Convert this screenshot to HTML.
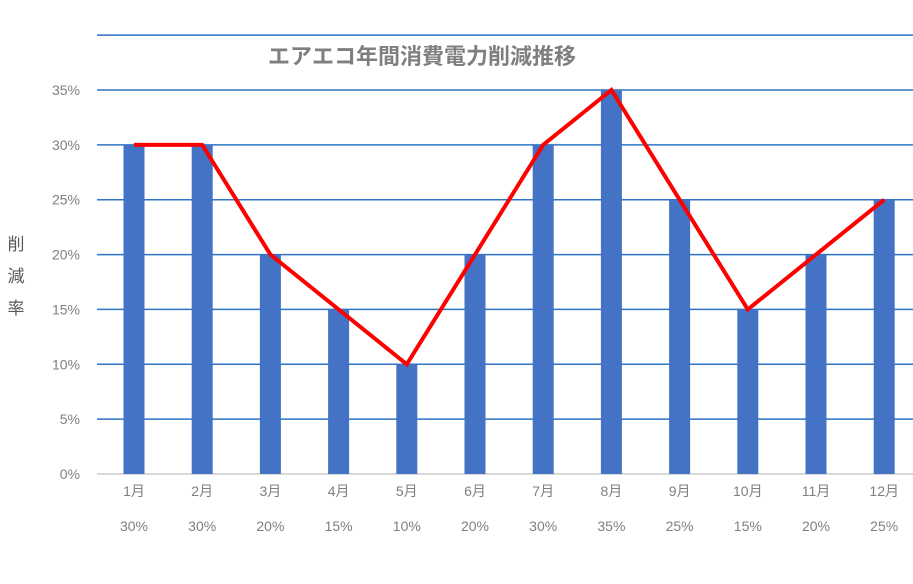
<!DOCTYPE html>
<html><head><meta charset="utf-8"><style>
body{margin:0;background:#fff;}
svg text{font-family:"Liberation Sans","Noto Sans CJK JP",sans-serif;}
</style></head><body>
<svg width="913" height="579">
<g id="grid"></g>
<text x="422" y="64" text-anchor="middle" font-size="22" font-weight="bold" fill="#7f7f7f">エアエコ年間消費電力削減推移</text>
<g font-size="17" fill="#595959">
<text x="16" y="250" text-anchor="middle">削</text>
<text x="16" y="282" text-anchor="middle">減</text>
<text x="16" y="314" text-anchor="middle">率</text>
</g>
<g id="bars"></g>
<g id="line"></g>
<g id="labels"></g>
<text x="430" y="592" text-anchor="middle" font-size="15" fill="#595959">年間消費電力削減率</text>
</svg>
<script>
const categories=["1月","2月","3月","4月","5月","6月","7月","8月","9月","10月","11月","12月"];
const values=[30,30,20,15,10,20,30,35,25,15,20,25];
const ticks=[0,5,10,15,20,25,30,35,40];
const NS="http://www.w3.org/2000/svg";
const y=v=>474-v*(384/35);
const x=i=>134+i*68.2;
function mk(t,a,p){const e=document.createElementNS(NS,t);for(const k in a)e.setAttribute(k,a[k]);p.appendChild(e);return e;}
const grid=document.getElementById('grid');
ticks.forEach(t=>{
 const l=mk('line',{x1:97,x2:913,y1:y(t),y2:y(t),stroke:t===0?'#d9d9d9':'#2e75c4','stroke-width':t===0?2:1.5},grid);
 
 
 if(t<40){const tx=mk('text',{x:80,y:y(t)+5,'text-anchor':'end','font-size':14,fill:'#7f7f7f'},grid);tx.textContent=t+'%';
 
 }
});
const bars=document.getElementById('bars'),labels=document.getElementById('labels');
values.forEach((v,i)=>{
 const r=mk('rect',{x:x(i)-10.5,y:y(v),width:21,height:y(0)-y(v),fill:'#4472c4'},bars);
 
 
 const a=mk('text',{x:x(i),y:496,'text-anchor':'middle','font-size':14,fill:'#7f7f7f'},labels);a.textContent=categories[i];
 
 
 const b=mk('text',{x:x(i),y:531,'text-anchor':'middle','font-size':14,fill:'#7f7f7f'},labels);b.textContent=v+'%';
 
 
});
const pl=mk('polyline',{points:values.map((v,i)=>x(i)+','+y(v)).join(' '),fill:'none',stroke:'#ff0000','stroke-width':4,'stroke-linejoin':'miter'},document.getElementById('line'));


</script>
</body></html>
